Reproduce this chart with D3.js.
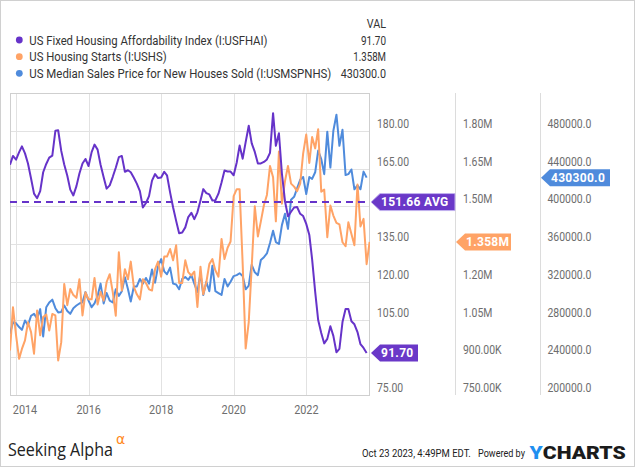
<!DOCTYPE html>
<html><head><meta charset="utf-8">
<script src="https://cdn.jsdelivr.net/npm/d3@7"></script>
<style>
body{margin:0;background:#fff}
svg{display:block;font-family:Roboto,"Noto Sans",sans-serif}
</style>
</head><body>
<svg id="c" width="635" height="467"></svg>
<script>
// ---------- DATA ----------
// monthly observations, first month = Oct 2013 (plotted at month end)
const startYear = 2013, startMonthIndex = 9;
const affordability = [
166.5,170,168.5,171.5,173.8,171,167,161,155,153.2,
156,163.5,166.8,169.3,170.1,180,180.2,172,166.6,162.1,
156.6,154.3,158,163,167,168.8,166,171.5,174.5,172.5,
166.5,161.5,157,158.3,161.7,165.3,169.5,170,163.7,164.3,
163.5,161.3,159,156,149.5,151.3,154,160.2,162.8,161.2,
161.4,163.7,162.3,155.5,149.6,144.2,139.3,139.6,141.6,145.7,
147.4,144.9,147.6,152.3,156.8,155.2,154.7,152.3,152.4,155,
159.4,164.2,163.8,163.8,162.3,167.4,174.1,168.9,175.5,182,
175,171.6,167,167,167.6,168.6,171.2,187,174,179,
163,152,146,147.8,149.5,149.7,147,146.1,143,138.6,
129,116,104.8,99.6,95.5,97.3,102.3,98.5,92,93.3,
104,109.2,109.2,104.3,103.1,100,95.2,93.7,91.7];
// housing starts, thousands of units (SAAR)
const housingStarts = [
927,1099,987,894,933,967,1039,1000,914,1086,
987,1060,1070,1006,1072,1066,887,960,1191,1107,
1171,1147,1136,1210,1066,1158,1130,1130,1215,1110,
1160,1125,1199,1230,1158,1065,1317,1165,1250,1210,
1280,1180,1150,1130,1210,1195,1170,1165,1250,1280,
1220,1300,1300,1330,1285,1345,1195,1195,1285,1238,
1225,1240,1100,1260,1150,1198,1270,1290,1245,1220,
1370,1290,1335,1360,1540,1568,1568,1270,935,1040,
1260,1500,1380,1440,1505,1545,1660,1615,1440,1718,
1510,1600,1660,1590,1578,1560,1590,1710,1785,1672,
1775,1730,1806,1558,1566,1377,1503,1463,1434,1428,
1357,1341,1436,1390,1345,1586,1420,1450,1270,1358];
const medianPrice = [
265000,277000,276000,272000,269000,279000,274000,284000,286000,281000,
291000,262000,293000,298000,301000,292000,287500,288000,294800,289000,
286000,292000,294800,297000,298300,309000,300000,293000,297000,305000,
318000,297000,308000,300000,298000,312000,305000,310000,324800,312000,
299000,315000,315000,323000,318000,324000,318000,333000,319000,336500,
344000,331000,328000,335000,318000,317000,312000,323000,325000,322000,
327000,318000,309000,329000,306000,320000,310000,337000,310000,308000,
306000,323000,315000,320000,326000,327000,329000,326000,312000,316000,
338000,330000,327000,343000,346000,350000,361000,374000,362000,360000,
380000,392000,376000,407000,410000,419000,428000,431000,413000,431000,
429000,436000,459000,450000,434000,479000,441000,480000,497000,464000,
481000,433000,434000,439000,418000,422000,418000,436700,430300];
const affordabilityAvg = 151.66;

const seriesNames = [
  "US Fixed Housing Affordability Index (I:USFHAI)",
  "US Housing Starts (I:USHS)",
  "US Median Sales Price for New Houses Sold (I:USMSPNHS)"];
const seriesLastLabels = ["91.70", "1.358M", "430300.0"];
const seriesColors = ["#6633c9", "#ffa366", "#4f8bdc"];

const xTickYears = [2014, 2016, 2018, 2020, 2022];
const affTicks = [75, 90, 105, 120, 135, 150, 165, 180];
const startsTicks = [750, 900, 1050, 1200, 1350, 1500, 1650, 1800];
const priceTicks = [200000, 240000, 280000, 320000, 360000, 400000, 440000, 480000];

// ---------- LAYOUT ----------
const W = 635, H = 467;
const P = {l: 10, r: 370, t: 93, b: 395};
const svg = d3.select("#c");

const monthEnd = i => new Date(startYear, startMonthIndex + i + 1, 0);
const x = d3.scaleTime()
  .domain([new Date(2013, 9, 31), new Date(2023, 9, 4)])
  .range([P.l, P.r]);
const yA = d3.scaleLinear().domain([75, 195]).range([P.b, P.t]);
const yS = d3.scaleLinear().domain([750, 1950]).range([P.b, P.t]);
const yP = d3.scaleLinear().domain([200000, 520000]).range([P.b, P.t]);

// condensed text: draws text then squeezes it horizontally with a transform
function ctext(parent, tx, ty, str, opts) {
  const t = parent.append("text").attr("x", 0).attr("y", 0)
    .attr("font-size", opts.size || 12)
    .attr("fill", opts.fill || "#333")
    .attr("text-anchor", opts.anchor || "start")
    .text(str);
  if (opts.family) t.attr("font-family", opts.family);
  if (opts.weight) t.attr("font-weight", opts.weight);
  const L = t.node().getComputedTextLength();
  const f = opts.width ? opts.width / L : (opts.factor || 1);
  t.attr("transform", `translate(${tx},${ty}) scale(${f.toFixed(4)},1)`);
  return t;
}

// outer border
svg.append("rect").attr("x", 0.5).attr("y", 0.5).attr("width", W - 1).attr("height", H - 1)
  .attr("fill", "#fff").attr("stroke", "#d0d0d0");

// gridlines
const grid = svg.append("g");
grid.selectAll("line.h").data(affTicks.filter(v => v !== 75)).join("line")
  .attr("x1", P.l).attr("x2", P.r)
  .attr("y1", d => Math.round(yA(d)) + 0.5).attr("y2", d => Math.round(yA(d)) + 0.5)
  .attr("stroke", "#e2e2e2");
grid.selectAll("line.v").data(xTickYears).join("line")
  .attr("x1", d => Math.round(x(new Date(d, 0, 1))) + 0.5)
  .attr("x2", d => Math.round(x(new Date(d, 0, 1))) + 0.5)
  .attr("y1", P.t).attr("y2", P.b)
  .attr("stroke", "#e2e2e2");

// axis separators
[455.5, 540.5].forEach(sx => svg.append("line")
  .attr("x1", sx).attr("x2", sx).attr("y1", P.t).attr("y2", P.b)
  .attr("stroke", "#dcdcdc"));

// plot frame
svg.append("rect").attr("x", P.l + 0.5).attr("y", P.t + 0.5)
  .attr("width", P.r - P.l - 1).attr("height", P.b - P.t)
  .attr("fill", "none").attr("stroke", "#cfcfcf");

// clip
svg.append("clipPath").attr("id", "clip").append("rect")
  .attr("x", P.l).attr("y", P.t).attr("width", P.r - P.l).attr("height", P.b - P.t);
const plot = svg.append("g").attr("clip-path", "url(#clip)");

const lineOf = (arr, ys) => d3.line()
  .x((d, i) => x(monthEnd(i))).y(d => ys(d)).curve(d3.curveLinear)(arr);

plot.append("path").attr("d", lineOf(medianPrice, yP))
  .attr("fill", "none").attr("stroke", seriesColors[2]).attr("stroke-width", 2).attr("stroke-linejoin", "round");
plot.append("path").attr("d", lineOf(housingStarts, yS))
  .attr("fill", "none").attr("stroke", seriesColors[1]).attr("stroke-width", 2).attr("stroke-linejoin", "round");
plot.append("path").attr("d", lineOf(affordability, yA))
  .attr("fill", "none").attr("stroke", seriesColors[0]).attr("stroke-width", 2).attr("stroke-linejoin", "round");
plot.append("line").attr("x1", P.l).attr("x2", P.r)
  .attr("y1", yA(affordabilityAvg)).attr("y2", yA(affordabilityAvg))
  .attr("stroke", seriesColors[0]).attr("stroke-width", 2).attr("stroke-dasharray", "7,5");

// flags (value markers on right axes)
const lastA = affordability[affordability.length - 1];
const lastS = housingStarts[housingStarts.length - 1];
const lastP = medianPrice[medianPrice.length - 1];
const flags = [
  {tip: 371, y: yA(affordabilityAvg), right: 455, text: affordabilityAvg.toFixed(2) + " AVG", color: "#6a38c8", stroke: "#c2b0ee", axis: 0},
  {tip: 371, y: yA(lastA), right: 418, text: lastA.toFixed(2), color: "#6a38c8", axis: 0},
  {tip: 456, y: yS(lastS), right: 511, text: (lastS / 1000).toFixed(3) + "M", color: "#ffa366", axis: 1},
  {tip: 541, y: yP(lastP), right: 610, text: lastP.toFixed(1), color: "#4f8bdc", axis: 2}
];

// right axis tick labels
const fmtS = v => v >= 1000 ? (v / 1000).toFixed(2) + "M" : v.toFixed(2) + "K";
const axes = [
  {x0: 377, ticks: affTicks, scale: yA, fmt: v => v.toFixed(2)},
  {x0: 463, ticks: startsTicks, scale: yS, fmt: fmtS},
  {x0: 547.5, ticks: priceTicks, scale: yP, fmt: v => v.toFixed(1)}
];
axes.forEach((a, ai) => {
  const blocked = flags.filter(f => f.axis === ai).map(f => f.y);
  const tk = a.ticks.filter(v => blocked.every(by => Math.abs(a.scale(v) - 7 - by) > 9));
  const g = svg.append("g");
  tk.forEach(v => ctext(g, a.x0, a.scale(v) - 2.8, a.fmt(v), {size: 12, fill: "#6e6e6e", factor: 0.87}));
});

flags.forEach(f => {
  const h = 8.5;
  svg.append("path")
    .attr("d", `M${f.tip},${f.y} L${f.tip + 9},${f.y - h} L${f.right},${f.y - h} L${f.right},${f.y + h} L${f.tip + 9},${f.y + h} Z`)
    .attr("fill", f.color).attr("stroke", f.stroke || "none").attr("stroke-width", 1);
  svg.append("text").attr("x", f.tip + 10).attr("y", f.y + 4.3)
    .attr("font-size", 12).attr("font-weight", 700).attr("fill", "#fff")
    .attr("letter-spacing", 0.3).text(f.text);
});

// x axis labels
const xg = svg.append("g");
xTickYears.forEach(yr => ctext(xg, Math.max(x(new Date(yr, 0, 1)), 25), 414.3, String(yr),
  {size: 12.5, fill: "#6e6e6e", anchor: "middle", factor: 0.87}));

// legend
const lg = svg.append("g");
const valWidths = [25, 32.7, 45.3];
ctext(lg, 386, 27.8, "VAL", {size: 13, fill: "#333", anchor: "end", width: 19.3});
const rowY = [40, 56.7, 73.3];
const legendWidths = [238.4, 137.4, 302.4];
seriesNames.forEach((n, i) => {
  lg.append("circle").attr("cx", 19.3).attr("cy", rowY[i]).attr("r", 3.4).attr("fill", seriesColors[i]);
  ctext(lg, 29.3, rowY[i] + 4.6, n, {size: 13, fill: "#333", width: legendWidths[i]});
  ctext(lg, 386, rowY[i] + 4.6, seriesLastLabels[i], {size: 13, fill: "#333", anchor: "end", width: valWidths[i]});
});

// footer
const fg = svg.append("g");
ctext(fg, 8, 456, "Seeking Alpha", {size: 17.5, fill: "#222", family: "'Open Sans',sans-serif", width: 105});
ctext(fg, 116, 444, "α", {size: 14, fill: "#ff8a1e", family: "'DejaVu Sans',sans-serif"});
ctext(fg, 362, 457, "Oct 23 2023, 4:49PM EDT.", {size: 11.5, fill: "#222", width: 109});
ctext(fg, 478, 457, "Powered by", {size: 11.5, fill: "#222", width: 47});
const yc = fg.append("text").attr("x", 0).attr("y", 0).attr("font-size", 18.5).attr("font-weight", 900);
yc.append("tspan").attr("fill", "#1f8ff0").text("Y");
yc.append("tspan").attr("fill", "#1b1b1b").text("CHARTS");
const ycL = yc.node().getComputedTextLength();
yc.attr("transform", `translate(529.5,459.3) scale(${(96 / ycL).toFixed(4)},1)`);
</script>
</body></html>
